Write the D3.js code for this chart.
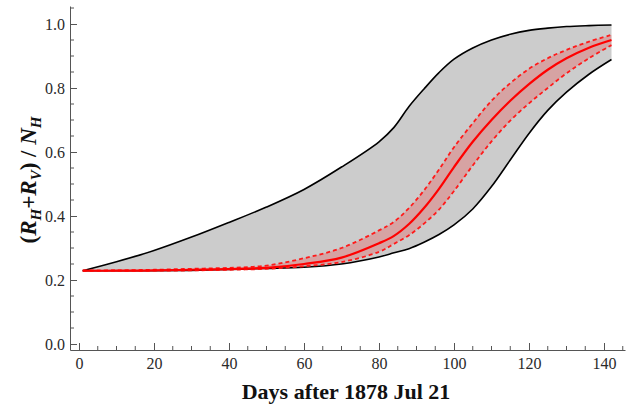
<!DOCTYPE html>
<html>
<head>
<meta charset="utf-8">
<script src="https://cdn.jsdelivr.net/npm/d3@7"></script>
<style>
  body { margin: 0; background: #fff; }
  svg text { font-family: "Liberation Serif", "Times New Roman", Times, serif; }
</style>
</head>
<body>
<div id="chart"><svg width="628" height="406"></svg></div>
<script>
// days after 1878 Jul 21
var days       = [1, 10, 20, 30, 40, 50, 60, 70, 80, 84, 88, 92, 96, 100, 105, 110, 115, 120, 125, 130, 136, 142]
// grey envelope
var upperBound = [0.229, 0.257, 0.292, 0.334, 0.380, 0.428, 0.483, 0.553, 0.632, 0.677, 0.742, 0.797, 0.848, 0.890, 0.925, 0.950, 0.968, 0.980, 0.987, 0.992, 0.995, 0.997]
var lowerBound = [0.229, 0.229, 0.229, 0.230, 0.233, 0.236, 0.240, 0.250, 0.272, 0.285, 0.298, 0.318, 0.342, 0.372, 0.422, 0.492, 0.575, 0.658, 0.730, 0.787, 0.843, 0.889]
// red fit and its band
var fitMid     = [0.229, 0.229, 0.230, 0.232, 0.234, 0.238, 0.250, 0.270, 0.315, 0.338, 0.375, 0.425, 0.485, 0.553, 0.632, 0.700, 0.760, 0.812, 0.857, 0.893, 0.926, 0.950]
var fitHigh    = [0.229, 0.230, 0.232, 0.235, 0.238, 0.245, 0.268, 0.300, 0.355, 0.382, 0.425, 0.480, 0.545, 0.615, 0.690, 0.760, 0.815, 0.860, 0.893, 0.919, 0.945, 0.966]
var fitLow     = [0.229, 0.229, 0.229, 0.230, 0.232, 0.235, 0.243, 0.256, 0.288, 0.313, 0.340, 0.376, 0.420, 0.478, 0.558, 0.633, 0.698, 0.752, 0.800, 0.846, 0.893, 0.934]

var xTicks = [0, 20, 40, 60, 80, 100, 120, 140]
var yTicks = [0.0, 0.2, 0.4, 0.6, 0.8, 1.0]

var svg = d3.select("#chart svg")

var x = d3.scaleLinear().domain([-2.4, 145.6]).range([70, 625])
var y = d3.scaleLinear().domain([-0.01875, 1.05625]).range([350, 6])

var rows = days.map(function(d, i){
    return {d: d, up: upperBound[i], lo: lowerBound[i], mid: fitMid[i], hi: fitHigh[i], low: fitLow[i]}
})

var curve = d3.curveCatmullRom.alpha(0.5)

function band(a, b){
    return d3.area().curve(curve)
        .x(function(r){ return x(r.d) })
        .y0(function(r){ return y(r[b]) })
        .y1(function(r){ return y(r[a]) })
}
function line(k){
    return d3.line().curve(curve)
        .x(function(r){ return x(r.d) })
        .y(function(r){ return y(r[k]) })
}

svg.append("path").attr("d", band("up", "lo")(rows)).attr("fill", "#cccccc")
svg.append("path").attr("d", band("hi", "low")(rows)).attr("fill", "rgba(255,0,0,0.2)")

svg.append("path").attr("d", line("up")(rows)).attr("fill", "none").attr("stroke", "#000").attr("stroke-width", 1.6)
svg.append("path").attr("d", line("lo")(rows)).attr("fill", "none").attr("stroke", "#000").attr("stroke-width", 1.6)

svg.append("path").attr("d", line("hi")(rows)).attr("fill", "none").attr("stroke", "#ff1a1a")
    .attr("stroke-width", 1.8).attr("stroke-dasharray", "4,3")
svg.append("path").attr("d", line("low")(rows)).attr("fill", "none").attr("stroke", "#ff1a1a")
    .attr("stroke-width", 1.8).attr("stroke-dasharray", "4,3")
svg.append("path").attr("d", line("mid")(rows)).attr("fill", "none").attr("stroke", "#ff0000").attr("stroke-width", 2.2)

// axes: major + minor ticks pointing inwards
var xMinor = d3.range(0, 146, 5).filter(function(v){ return v % 20 != 0 })
var yMinor = d3.range(0, 1.051, 0.05).map(function(v){ return +v.toFixed(2) })
    .filter(function(v){ return Math.round(v * 100) % 20 != 0 })

var xAxis = d3.axisBottom(x).tickValues(xTicks).tickSizeInner(-7).tickSizeOuter(0)
    .tickFormat(d3.format("d"))
var yAxis = d3.axisLeft(y).tickValues(yTicks).tickSizeInner(7).tickSizeOuter(0)
    .tickFormat(d3.format(".1f"))

var gx = svg.append("g").attr("class", "xAxis").attr("transform", "translate(0,350)").call(xAxis)
gx.selectAll(".minor").data(xMinor).enter().append("line").attr("class", "minor")
    .attr("x1", function(v){ return x(v) }).attr("x2", function(v){ return x(v) })
    .attr("y1", 0).attr("y2", -4).attr("stroke", "#555")

var gy = svg.append("g").attr("class", "yAxis").attr("transform", "translate(70,0)").call(yAxis)
gy.selectAll(".tick line").attr("x1", 0).attr("x2", 7)
gy.selectAll(".minor").data(yMinor).enter().append("line").attr("class", "minor")
    .attr("y1", function(v){ return y(v) }).attr("y2", function(v){ return y(v) })
    .attr("x1", 0).attr("x2", 4).attr("stroke", "#555")

svg.selectAll(".domain").attr("stroke", "#555")
svg.selectAll(".tick line").attr("stroke", "#555")
svg.selectAll(".tick text").attr("fill", "#2a2a2a")
    .attr("font-family", "Liberation Serif, Times New Roman, serif").attr("font-size", 16)
gx.selectAll(".tick text").attr("y", 19).attr("dy", 0)
gy.selectAll(".tick text").attr("x", -5).attr("dy", "0.33em")

// axis titles
svg.append("text").attr("x", 346).attr("y", 399).attr("text-anchor", "middle")
    .style("font-size", "22px").style("font-weight", "bold").attr("fill", "#111")
    .text("Days after 1878 Jul 21")

var yl = svg.append("text").attr("transform", "translate(36,180) rotate(-90)")
    .attr("text-anchor", "middle").style("font-size", "23px").style("font-weight", "bold").attr("fill", "#111")
yl.append("tspan").text("(")
yl.append("tspan").style("font-style", "italic").text("R")
yl.append("tspan").style("font-style", "italic").style("font-size", "15px").attr("dy", 5).text("H")
yl.append("tspan").attr("dy", -5).text("+")
yl.append("tspan").style("font-style", "italic").text("R")
yl.append("tspan").style("font-style", "italic").style("font-size", "15px").attr("dy", 5).text("V")
yl.append("tspan").attr("dy", -5).text(") / ")
yl.append("tspan").style("font-style", "italic").text("N")
yl.append("tspan").style("font-style", "italic").style("font-size", "15px").attr("dy", 5).text("H")
</script>
</body>
</html>
